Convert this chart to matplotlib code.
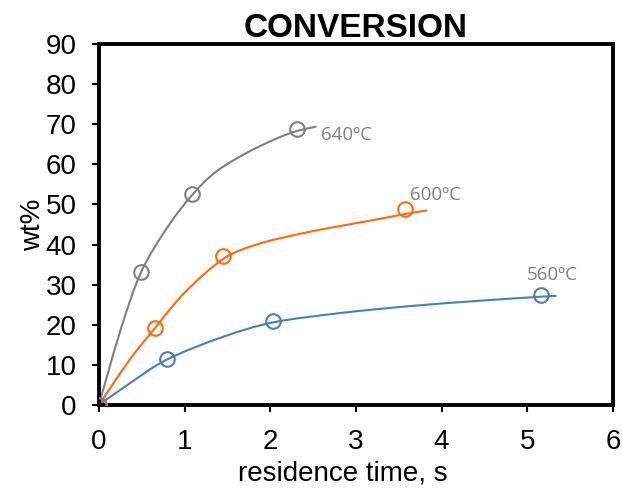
import matplotlib
matplotlib.use("Agg")
import matplotlib.pyplot as plt
from matplotlib.path import Path
from matplotlib.patches import PathPatch

plt.rcParams["font.family"] = ["Liberation Sans", "DejaVu Sans"]

# measured points (open circles)
t_640 = [0, 0.49, 1.09, 2.31]
w_640 = [0, 33.2, 52.6, 68.8]
t_600 = [0, 0.655, 1.45, 3.57]
w_600 = [0, 19.1, 37.1, 48.9]
t_560 = [0, 0.80, 2.035, 5.16]
w_560 = [0, 11.4, 21.0, 27.3]

# fitted curves
ct_640 = [0, 0.25, 0.49, 0.79, 1.09, 1.37, 1.72, 2.07, 2.31, 2.54]
cw_640 = [0, 18.5, 33.0, 44.0, 52.4, 58.2, 62.8, 66.4, 68.3, 69.4]
ct_600 = [0, 0.36, 0.655, 1.0, 1.45, 1.84, 2.35, 2.81, 3.28, 3.57, 3.83]
cw_600 = [0, 11.3, 19.2, 28.0, 36.4, 40.0, 42.7, 44.6, 46.4, 47.6, 48.5]
ct_560 = [0, 0.36, 0.80, 1.45, 2.035, 2.81, 3.6, 4.45, 5.16, 5.34]
cw_560 = [0, 5.4, 11.4, 17.0, 20.6, 22.9, 24.6, 26.0, 27.0, 27.2]

C_GRAY, C_ORANGE, C_BLUE = "#7F7F7F", "#FF6A0A", "#4A7EBB"


def smooth_path(xs, ys):
    # spreadsheet-style smoothed line: Catmull-Rom segments as cubic Beziers
    pts = list(zip(xs, ys))
    verts, codes = [pts[0]], [Path.MOVETO]
    n = len(pts)
    for i in range(n - 1):
        p0 = pts[max(i - 1, 0)]
        p1, p2 = pts[i], pts[i + 1]
        p3 = pts[min(i + 2, n - 1)]
        c1 = (p1[0] + (p2[0] - p0[0]) / 6, p1[1] + (p2[1] - p0[1]) / 6)
        c2 = (p2[0] - (p3[0] - p1[0]) / 6, p2[1] - (p3[1] - p1[1]) / 6)
        verts += [c1, c2, p2]
        codes += [Path.CURVE4] * 3
    return Path(verts, codes)


fig = plt.figure(figsize=(6.22, 4.93), dpi=100)
ax = fig.add_axes([0.159, 0.1785, 0.8265, 0.7323])

for ct, cw, t, w, c in [(ct_560, cw_560, t_560, w_560, C_BLUE),
                        (ct_600, cw_600, t_600, w_600, C_ORANGE),
                        (ct_640, cw_640, t_640, w_640, C_GRAY)]:
    ax.add_patch(PathPatch(smooth_path(ct, cw), fc="none", ec=c, lw=1.5, zorder=2))
    ax.plot(t, w, ls="none", marker="o", ms=10.5, mfc="none", mec=c, mew=1.5, zorder=3)

lab = dict(color="#808080", fontsize=13.5, family=["Open Sans", "DejaVu Sans"], va="center")
ax.text(2.59, 67.3, "640ºC", ha="left", **lab)
ax.text(3.63, 52.3, "600ºC", ha="left", **lab)
ax.text(4.99, 32.5, "560ºC", ha="left", **lab)

ax.set_xlim(0, 6)
ax.set_ylim(0, 90)
ax.set_xticks(range(0, 7))
ax.set_yticks(range(0, 91, 10))
ax.tick_params(labelsize=20, length=5, width=1.5, direction="out")
ax.tick_params(axis="x", pad=12)
ax.tick_params(axis="y", pad=11)
for s in ax.spines.values():
    s.set_linewidth(2.8)
ax.set_xlabel("residence time, s", fontsize=20, labelpad=2)
ax.xaxis.set_label_coords(0.475, -0.155)
ax.set_ylabel("wt%", fontsize=20, labelpad=0)
ax.set_title("CONVERSION", fontsize=24, fontweight="bold", pad=2)

fig.savefig("out.png", dpi=100)
